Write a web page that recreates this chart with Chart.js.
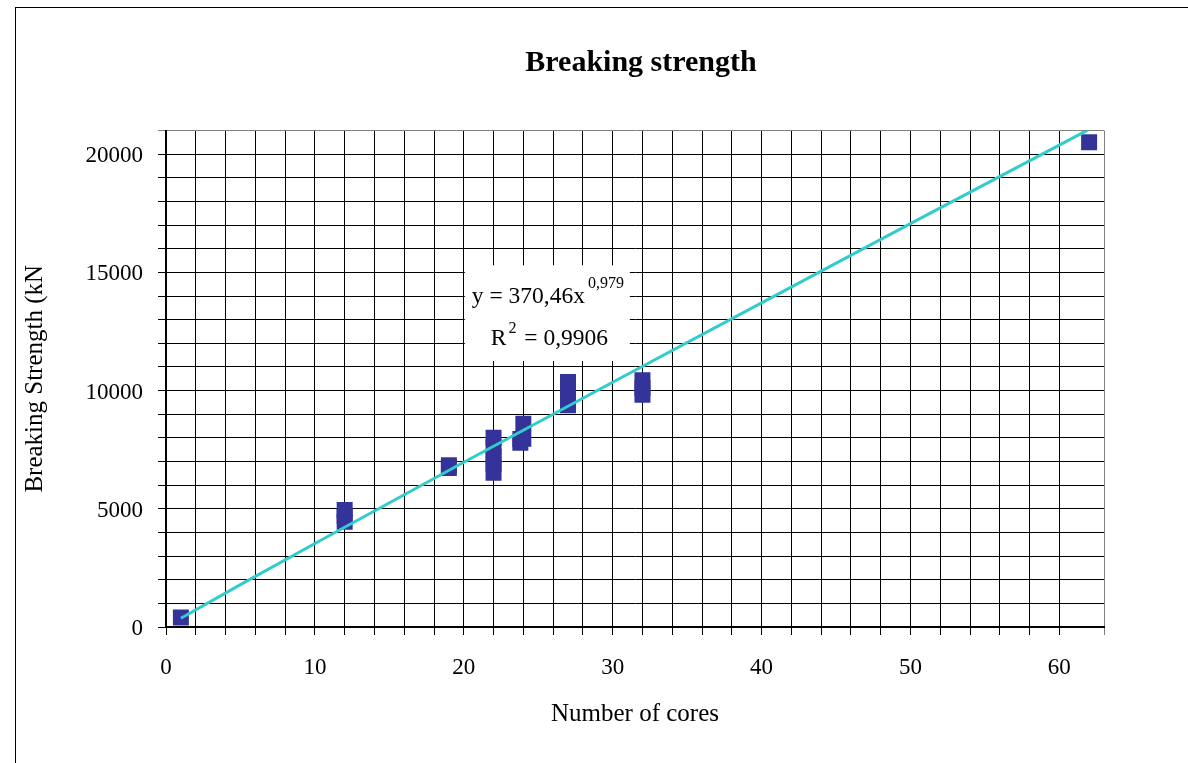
<!DOCTYPE html>
<html>
<head>
<meta charset="utf-8">
<script src="https://cdn.jsdelivr.net/npm/chart.js@4/dist/chart.umd.min.js"></script>
<style>
  html, body { margin: 0; padding: 0; background: #fff; }
  canvas { display: block; }
</style>
</head>
<body>
<canvas id="c" width="1188" height="763"></canvas>
<script>
// ---- Data ----
const chartTitle = "Breaking strength";
const xAxisTitle = "Number of cores";
const yAxisTitle = "Breaking Strength (kN";

// measured points (number of cores, breaking strength kN)
const coresX    = [1,   12,   12,   12,   19,   19,   22,   22,   22,   22,   22,   23.8, 23.8, 24,   24,   27,    27,    27,   27,   32,    32,    32,   62];
const strengthY = [400, 4950, 4700, 4450, 6840, 6720, 8000, 7600, 7200, 6900, 6520, 7950, 7790, 8600, 7960, 10360, 10000, 9700, 9380, 10440, 10100, 9820, 20500];

// power trend line
const trendX = [1,   5,    10,   20,   30,    40,    50,    62];
const trendY = [370, 1790, 3530, 6970, 10350, 13710, 17060, 21050];

// equation label
const eqMain = "y = 370,46x";
const eqExp  = "0,979";
const r2Main = "R";
const r2Exp  = "2";
const r2Rest = " = 0,9906";

const X_MIN = 0, X_MAX = 63, X_STEP = 2, X_LABEL_EVERY = 10;
const Y_MIN = 0, Y_MAX = 21000, Y_STEP = 1000, Y_LABEL_EVERY = 5000;

const SERIF = "'Liberation Serif', 'Times New Roman', serif";

const pointsData = coresX.map((x, i) => ({ x, y: strengthY[i] }));
const trendData = trendX.map((x, i) => ({ x, y: trendY[i] }));

const framePlugin = {
  id: 'frame',
  beforeDraw(chart) {
    const ctx = chart.ctx;
    ctx.save();
    ctx.fillStyle = '#fff';
    ctx.fillRect(0, 0, chart.width, chart.height);
    ctx.strokeStyle = '#000';
    ctx.lineWidth = 1;
    ctx.strokeRect(15.5, 7.5, chart.width + 20, chart.height + 20);
    ctx.restore();
  },
  afterDraw(chart) {
    const ctx = chart.ctx;
    ctx.save();
    ctx.fillStyle = '#000';
    ctx.font = "bold 30px " + SERIF;
    ctx.textAlign = 'center';
    ctx.textBaseline = 'alphabetic';
    ctx.fillText(chartTitle, 641, 71);
    ctx.restore();
  }
};

const eqPlugin = {
  id: 'equation',
  afterDatasetsDraw(chart) {
    const { ctx, scales: { x, y } } = chart;
    const left = x.getPixelForValue(20.07);
    const right = x.getPixelForValue(31.15);
    const top = y.getPixelForValue(15300);
    const bottom = y.getPixelForValue(11250);
    ctx.save();
    ctx.fillStyle = '#fff';
    ctx.fillRect(left, top, right - left, bottom - top);
    ctx.fillStyle = '#000';
    ctx.textAlign = 'left';
    ctx.textBaseline = 'alphabetic';
    // line 1
    ctx.font = "23.5px " + SERIF;
    const x1 = left + 7, b1 = top + 38;
    ctx.fillText(eqMain, x1, b1);
    const w1 = ctx.measureText(eqMain).width;
    ctx.font = "16px " + SERIF;
    ctx.fillText(eqExp, x1 + w1 + 3, b1 - 15);
    // line 2
    ctx.font = "23.5px " + SERIF;
    const x2 = left + 26, b2 = top + 80;
    ctx.fillText(r2Main, x2, b2);
    const wR = ctx.measureText(r2Main).width;
    ctx.font = "16px " + SERIF;
    ctx.fillText(r2Exp, x2 + wR + 2, b2 - 12);
    const w2 = ctx.measureText(r2Exp).width;
    ctx.font = "23.5px " + SERIF;
    ctx.fillText(r2Rest, x2 + wR + 2 + w2 + 2, b2);
    ctx.restore();
  }
};

new Chart(document.getElementById('c'), {
  type: 'scatter',
  data: {
    datasets: [
      {
        label: 'trend',
        data: trendData,
        showLine: true,
        borderColor: '#33CCCC',
        borderWidth: 3,
        pointRadius: 0,
        pointHoverRadius: 0,
        tension: 0,
        fill: false,
        order: 0
      },
      {
        label: 'Breaking strength',
        data: pointsData,
        pointStyle: 'rect',
        pointRadius: 11.3,
        pointHoverRadius: 11.3,
        backgroundColor: '#333399',
        borderColor: '#333399',
        borderWidth: 0,
        order: 1
      }
    ]
  },
  options: {
    responsive: false,
    animation: false,
    events: [],
    layout: { padding: { top: 130.5, right: 84, bottom: 0, left: 0 } },
    plugins: {
      legend: { display: false },
      title: { display: false },
      tooltip: { enabled: false }
    },
    scales: {
      x: {
        type: 'linear',
        min: X_MIN, max: X_MAX,
        afterFit(s) { s.height = 136; },
        border: { display: true, color: '#000', width: 2 },
        grid: {
          color: (c) => (c.tick && c.tick.value === X_MAX) ? '#808080' : '#000',
          lineWidth: 1,
          drawTicks: true,
          tickLength: 8
        },
        ticks: {
          stepSize: X_STEP,
          autoSkip: false,
          maxRotation: 0,
          padding: 19,
          color: '#000',
          font: { family: SERIF, size: 23 },
          callback: (v) => (v % X_LABEL_EVERY === 0 ? String(v) : '')
        },
        title: {
          display: true,
          text: xAxisTitle,
          color: '#000',
          font: { family: SERIF, size: 25 },
          padding: { top: 0, bottom: 34 }
        }
      },
      y: {
        type: 'linear',
        min: Y_MIN, max: Y_MAX,
        afterFit(s) { s.width = 166; },
        border: { display: true, color: '#000', width: 2 },
        grid: {
          color: (c) => (c.tick && c.tick.value === Y_MAX) ? '#808080' : '#000',
          lineWidth: 1,
          drawTicks: true,
          tickLength: 8
        },
        ticks: {
          stepSize: Y_STEP,
          autoSkip: false,
          padding: 15,
          labelOffset: 2,
          color: '#000',
          font: { family: SERIF, size: 23 },
          callback: (v) => (v % Y_LABEL_EVERY === 0 ? String(v) : '')
        },
        title: {
          display: true,
          text: yAxisTitle,
          color: '#000',
          font: { family: SERIF, size: 25 },
          padding: { top: 20, bottom: 0 }
        }
      }
    }
  },
  plugins: [framePlugin, eqPlugin]
});
</script>
</body>
</html>
